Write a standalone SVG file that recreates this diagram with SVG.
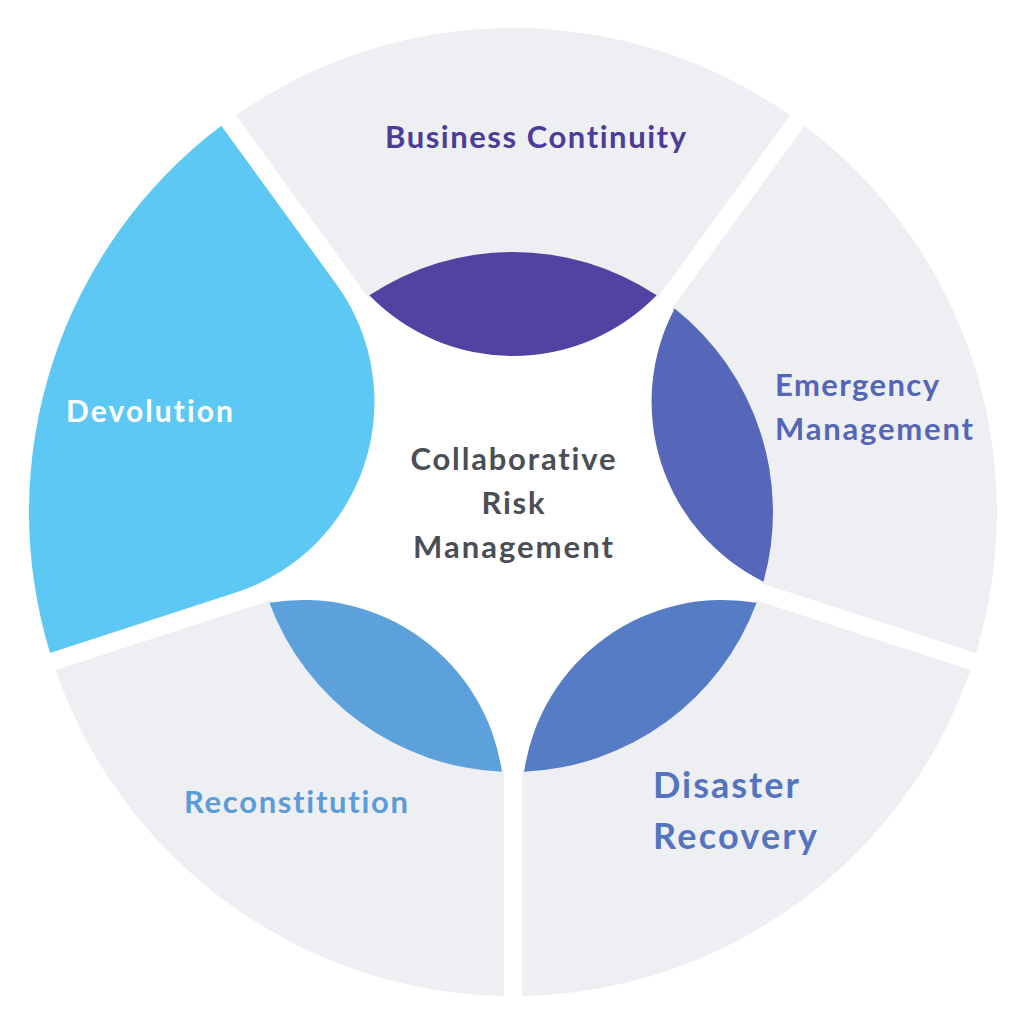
<svg xmlns="http://www.w3.org/2000/svg" width="1024" height="1024" viewBox="0 0 1024 1024">
<style>
.seg{fill:#EEEFF3}
.lbl{font-family:Lato,"Open Sans","Liberation Sans",sans-serif;font-weight:700;font-variant-ligatures:none;font-feature-settings:"liga" 0,"clig" 0}
</style>
<defs>
<path id="wedge" d="M -277.16,-396.78 A 484 484 0 0 1 277.16,-396.78 L 144.28,-213.88 A 258 258 0 0 0 -144.28,-213.88 Z"/>
<path id="lens" d="M -143.7,-216.66 A 260 260 0 0 1 143.7,-216.66 A 200.6 200.6 0 0 1 -143.7,-216.66 Z"/>
<path id="drop" d="M -277.16,-396.78 A 484 484 0 0 1 277.16,-396.78 L 162.29,-238.68 A 200.6 200.6 0 0 1 -162.29,-238.68 Z"/>
</defs>
<rect width="1024" height="1024" fill="#FFFFFF"/>
<g id="business-continuity">
<g transform="translate(513 512)"><use href="#wedge" class="seg"/><use href="#lens" fill="#5243A3"/></g>
<text class="lbl" x="385" y="148" font-size="31" fill="#4B3C98" textLength="301" lengthAdjust="spacing">Business Continuity</text>
</g>
<g id="emergency-management">
<g transform="translate(513 512) rotate(72)"><use href="#wedge" class="seg"/><use href="#lens" fill="#5667BA"/></g>
<text class="lbl" x="775" y="396" font-size="31" fill="#5466B6" textLength="164" lengthAdjust="spacing">Emergency</text>
<text class="lbl" x="775" y="440" font-size="31" fill="#5466B6" textLength="198" lengthAdjust="spacing">Management</text>
</g>
<g id="disaster-recovery">
<g transform="translate(513 512) rotate(144)"><use href="#wedge" class="seg"/><use href="#lens" fill="#567CC6"/></g>
<text class="lbl" x="653" y="798" font-size="36" fill="#5374BE" textLength="146" lengthAdjust="spacing">Disaster</text>
<text class="lbl" x="653" y="849" font-size="36" fill="#5374BE" textLength="164" lengthAdjust="spacing">Recovery</text>
</g>
<g id="reconstitution">
<g transform="translate(513 512) rotate(216)"><use href="#wedge" class="seg"/><use href="#lens" fill="#5CA0DC"/></g>
<text class="lbl" x="184" y="813" font-size="31" fill="#5A9CD8" textLength="224" lengthAdjust="spacing">Reconstitution</text>
</g>
<g id="devolution">
<g transform="translate(513 512) rotate(288)"><use href="#drop" fill="#5DC8F3"/></g>
<text class="lbl" x="66" y="422" font-size="30" fill="#FFFFFF" textLength="167" lengthAdjust="spacing">Devolution</text>
</g>
<g id="collaborative-risk-management">
<text class="lbl" x="513" y="470" font-size="31" fill="#4A4E55" text-anchor="middle" textLength="205" lengthAdjust="spacing">Collaborative</text>
<text class="lbl" x="513" y="514" font-size="31" fill="#4A4E55" text-anchor="middle" textLength="63" lengthAdjust="spacing">Risk</text>
<text class="lbl" x="513" y="558" font-size="31" fill="#4A4E55" text-anchor="middle" textLength="200" lengthAdjust="spacing">Management</text>
</g>
<g id="connectors"/>
</svg>
